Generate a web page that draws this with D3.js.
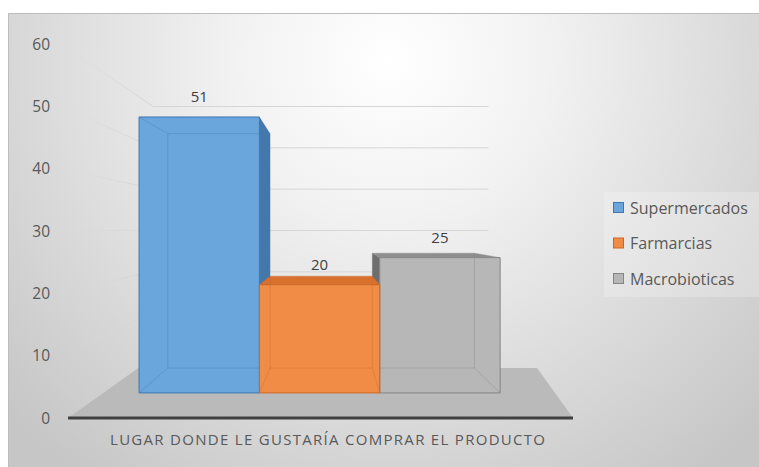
<!DOCTYPE html>
<html>
<head>
<meta charset="utf-8">
<script src="https://cdn.jsdelivr.net/npm/d3@7"></script>
<style>
  html, body { margin: 0; padding: 0; background: #ffffff; }
  svg { display: block; }
  text { font-family: "Open Sans", "Liberation Sans", sans-serif; }
</style>
</head>
<body>
<svg id="chart" width="759" height="467"></svg>
<script>
// ---- data ----
const categories = ["LUGAR DONDE LE GUSTARÍA COMPRAR EL PRODUCTO"];
const seriesNames = ["Supermercados", "Farmarcias", "Macrobioticas"];
const seriesValues = [51, 20, 25];
const yTicks = [0, 10, 20, 30, 40, 50, 60];

// ---- styles ----
const palette = {
  Supermercados: { front: "#6aa5dc", side: "#4478aa", top: "#4f88bf", edge: "#3f78b0" },
  Farmarcias:    { front: "#f08c46", side: "#c8642a", top: "#d8712e", edge: "#cc6626" },
  Macrobioticas: { front: "#b7b7b7", side: "#6e6e6e", top: "#8e8e8e", edge: "#858585" }
};

const W = 759, H = 467;
const svg = d3.select("#chart");

// One-point projection: world (X, Y) at depth factor s
const vp = { x: 330, y: 228 };
const P = (X, Y, s) => [vp.x + X * s, vp.y + Y * s];
const depth = { axis: 1, barFront: 0.868, barBack: 0.737, floorBack: 0.737, wall: 0.663 };

// Value scale in world units (front plane at depth 1)
const y = d3.scaleLinear().domain([0, 60]).range([190, -184]);
// Series band positions along X in world units
const x = d3.scaleBand().domain(seriesNames).range([-220, 196]).padding(0);

// ---- background ----
const defs = svg.append("defs");
const bg = defs.append("radialGradient").attr("id", "bg")
  .attr("gradientUnits", "userSpaceOnUse")
  .attr("cx", 390).attr("cy", 60).attr("r", 520);
bg.append("stop").attr("offset", 0).attr("stop-color", "#ffffff");
bg.append("stop").attr("offset", 0.3).attr("stop-color", "#f2f2f2");
bg.append("stop").attr("offset", 0.7).attr("stop-color", "#d9d9d9");
bg.append("stop").attr("offset", 1).attr("stop-color", "#c6c6c6");

svg.append("rect").attr("x", 8).attr("y", 13).attr("width", W - 8).attr("height", H - 13)
  .attr("fill", "url(#bg)");
svg.append("path").attr("d", `M8.5,${H} V13.5 H${W}`)
  .attr("fill", "none").attr("stroke", "#bdbdbd").attr("stroke-width", 1);

// ---- side wall lines (fade toward the front) ----
const sideGrad = defs.append("linearGradient").attr("id", "sideGrad")
  .attr("gradientUnits", "userSpaceOnUse").attr("x1", 62).attr("x2", 152).attr("y1", 0).attr("y2", 0);
sideGrad.append("stop").attr("offset", 0).attr("stop-color", "#d8d8d8").attr("stop-opacity", 0);
sideGrad.append("stop").attr("offset", 1).attr("stop-color", "#d4d4d4").attr("stop-opacity", 1);

const wallLeft = -268, wallRight = 239;
svg.append("g").selectAll("line").data(yTicks).join("line")
  .attr("x1", d => P(wallLeft, y(d), depth.axis)[0])
  .attr("y1", d => P(wallLeft, y(d), depth.axis)[1])
  .attr("x2", d => P(wallLeft, y(d), depth.wall)[0])
  .attr("y2", d => P(wallLeft, y(d), depth.wall)[1])
  .attr("stroke", "url(#sideGrad)").attr("stroke-width", 1);

// ---- back wall gridlines ----
svg.append("g").selectAll("line").data(yTicks).join("line")
  .attr("x1", d => P(wallLeft, y(d), depth.wall)[0])
  .attr("x2", d => P(wallRight, y(d), depth.wall)[0])
  .attr("y1", d => P(0, y(d), depth.wall)[1] + 0.5)
  .attr("y2", d => P(0, y(d), depth.wall)[1] + 0.5)
  .attr("stroke", "#d6d6d6").attr("stroke-width", 1);

// ---- floor ----
const floorY = y(0);
const floorPts = [
  P(-262, floorY, depth.axis), P(243, floorY, depth.axis),
  P(281, floorY, depth.floorBack), P(-260, floorY, depth.floorBack)
];
svg.append("path").attr("d", "M" + floorPts.map(p => p.join(",")).join("L") + "Z")
  .attr("fill", "#bababa");

// ---- bars ----
const poly = pts => "M" + pts.map(p => p[0].toFixed(2) + "," + p[1].toFixed(2)).join("L") + "Z";
const bars = seriesNames.map((name, i) => ({ name, value: seriesValues[i] }));
// draw the middle bar last so it sits over the neighbours' inner side faces
const order = [0, 2, 1].map(i => bars[i]);

const gBars = svg.append("g");
order.forEach(b => {
  const c = palette[b.name];
  const X0 = x(b.name), X1 = X0 + x.bandwidth();
  const Yt = y(b.value), Yb = y(0);
  const sf = depth.barFront, sb = depth.barBack;
  const g = gBars.append("g");
  // visible side face
  if (X1 < 0) {
    g.append("path").attr("d", poly([P(X1, Yt, sf), P(X1, Yt, sb), P(X1, Yb, sb), P(X1, Yb, sf)]))
      .attr("fill", c.side);
  }
  if (X0 > 0) {
    g.append("path").attr("d", poly([P(X0, Yt, sf), P(X0, Yt, sb), P(X0, Yb, sb), P(X0, Yb, sf)]))
      .attr("fill", c.side);
  }
  // top face when below eye level
  if (Yt > 0) {
    g.append("path").attr("d", poly([P(X0, Yt, sf), P(X1, Yt, sf), P(X1, Yt, sb), P(X0, Yt, sb)]))
      .attr("fill", c.top);
  }
  // front face
  g.append("path").attr("d", poly([P(X0, Yt, sf), P(X1, Yt, sf), P(X1, Yb, sf), P(X0, Yb, sf)]))
    .attr("fill", c.front)
    .attr("stroke", c.edge).attr("stroke-width", 1);
  // back outline and depth edges seen through the front face
  const backPts = [P(X0, Yt, sb), P(X1, Yt, sb), P(X1, Yb, sb), P(X0, Yb, sb)];
  g.append("path").attr("d", poly(backPts))
    .attr("fill", "none").attr("stroke", c.edge).attr("stroke-opacity", 0.35);
  [[P(X0, Yt, sf), P(X0, Yt, sb)], [P(X1, Yt, sf), P(X1, Yt, sb)],
   [P(X0, Yb, sf), P(X0, Yb, sb)], [P(X1, Yb, sf), P(X1, Yb, sb)]].forEach(([a, e]) => {
    g.append("line").attr("x1", a[0]).attr("y1", a[1]).attr("x2", e[0]).attr("y2", e[1])
      .attr("stroke", c.edge).attr("stroke-opacity", 0.35).attr("stroke-width", 1);
  });
});

// ---- value labels ----
svg.append("g").selectAll("text").data(bars).join("text")
  .attr("x", d => P(x(d.name) + x.bandwidth() / 2, y(d.value), depth.barFront)[0])
  .attr("y", d => P(0, y(d.value), depth.barFront)[1] - 15)
  .attr("text-anchor", "middle")
  .attr("font-size", 15).attr("fill", "#404040")
  .text(d => d.value);

// ---- category axis line ----
const a0 = P(-262, y(0), depth.axis), a1 = P(243, y(0), depth.axis);
svg.append("line").attr("x1", a0[0]).attr("x2", a1[0]).attr("y1", a0[1]).attr("y2", a1[1])
  .attr("stroke", "#404040").attr("stroke-width", 3);

// ---- value axis labels ----
svg.append("g").selectAll("text").data(yTicks).join("text")
  .attr("x", 50)
  .attr("y", d => P(0, y(d), depth.axis)[1])
  .attr("dy", "0.36em")
  .attr("text-anchor", "end")
  .attr("font-size", 15.5).attr("fill", "#595959")
  .text(d => d);

// ---- category label ----
svg.append("text")
  .attr("x", 110).attr("y", 445)
  .attr("textLength", 435).attr("lengthAdjust", "spacing")
  .attr("font-size", 15).attr("fill", "#595959")
  .text(categories[0]);

// ---- legend ----
svg.append("rect").attr("x", 604).attr("y", 192).attr("width", W - 604).attr("height", 105)
  .attr("fill", "#ffffff").attr("fill-opacity", 0.22);
const leg = svg.append("g").selectAll("g").data(seriesNames).join("g")
  .attr("transform", (d, i) => `translate(613,${208 + i * 35.5})`);
leg.append("rect").attr("x", 0.5).attr("y", -5.5).attr("width", 10).attr("height", 10)
  .attr("fill", d => palette[d].front).attr("stroke", d => palette[d].edge);
leg.append("text").attr("x", 17).attr("dy", "0.36em")
  .attr("font-size", 16).attr("fill", "#595959")
  .text(d => d);
</script>
</body>
</html>
